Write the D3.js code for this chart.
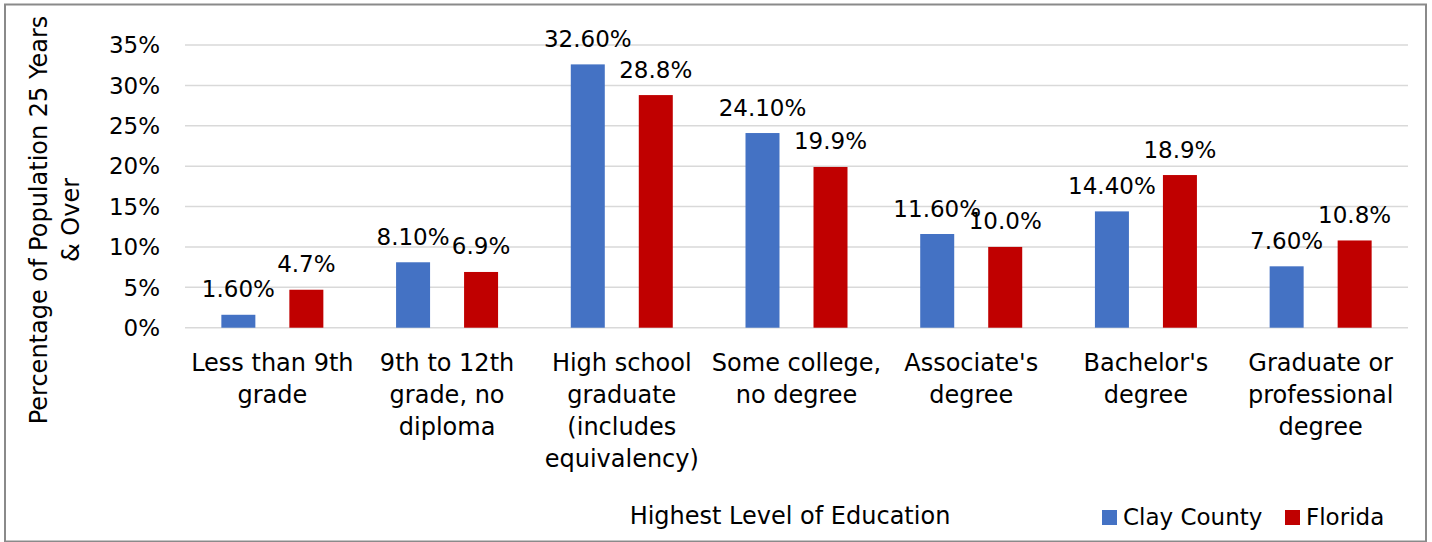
<!DOCTYPE html>
<html><head><meta charset="utf-8">
<script src="https://cdn.jsdelivr.net/npm/d3@7"></script>
<style>body{margin:0;background:#fff}svg{display:block}text{font-family:"DejaVu Sans",sans-serif;fill:#000}</style>
</head><body><svg id="c" width="1432" height="542"></svg>
<script>
const categories = [
  ["Less than 9th","grade"],
  ["9th to 12th","grade, no","diploma"],
  ["High school","graduate","(includes","equivalency)"],
  ["Some college,","no degree"],
  ["Associate's","degree"],
  ["Bachelor's","degree"],
  ["Graduate or","professional","degree"]
];
const seriesNames = ["Clay County","Florida"];
const clayValues = [1.6, 8.1, 32.6, 24.1, 11.6, 14.4, 7.6];
const floridaValues = [4.7, 6.9, 28.8, 19.9, 10.0, 18.9, 10.8];
const clayLabels = ["1.60%","8.10%","32.60%","24.10%","11.60%","14.40%","7.60%"];
const floridaLabels = ["4.7%","6.9%","28.8%","19.9%","10.0%","18.9%","10.8%"];
const yTicks = [0,5,10,15,20,25,30,35];
const colors = ["#4472C4","#C00000"];

(function(){
const svg = d3.select("#c");
svg.append("rect").attr("x",5).attr("y",4.5).attr("width",1421).attr("height",537)
  .attr("fill","#fff").attr("stroke","#8a8a8a").attr("stroke-width",2);

const pL=185,pR=1408,pT=45,pB=327.7;
const y = d3.scaleLinear().domain([0,35]).range([pB,pT]);
const x0 = d3.scaleBand().domain(d3.range(categories.length)).range([pL,pR]);
const x1 = d3.scaleBand().domain(seriesNames).range([0,102]).paddingInner(0.5);

svg.append("g").selectAll("line").data(yTicks).join("line")
  .attr("x1",pL).attr("x2",pR).attr("y1",d=>y(d)).attr("y2",d=>y(d))
  .attr("stroke","#d9d9d9").attr("stroke-width",1.5);
svg.append("g").selectAll("text").data(yTicks).join("text")
  .attr("x",160).attr("y",d=>y(d)).attr("dy","0.36em").attr("text-anchor","end")
  .attr("font-size",23).text(d=>d+"%");

const series = [
  {name:seriesNames[0], values:clayValues, labels:clayLabels, color:colors[0]},
  {name:seriesNames[1], values:floridaValues, labels:floridaLabels, color:colors[1]}
];
series.forEach(s=>{
  const g = svg.append("g");
  const bx = i => x0(i)+x0.bandwidth()/2-51+x1(s.name);
  g.selectAll("rect").data(s.values).join("rect")
    .attr("x",(d,i)=>bx(i)).attr("width",x1.bandwidth())
    .attr("y",d=>y(d)).attr("height",d=>y(0)-y(d)).attr("fill",s.color);
  g.selectAll("text").data(s.values).join("text")
    .attr("x",(d,i)=>bx(i)+x1.bandwidth()/2).attr("y",d=>y(d)-17.5)
    .attr("text-anchor","middle").attr("font-size",23).text((d,i)=>s.labels[i]);
});

const cg = svg.append("g");
categories.forEach((lines,i)=>{
  const t = cg.append("text").attr("text-anchor","middle").attr("font-size",24);
  lines.forEach((ln,j)=>{
    t.append("tspan").attr("x",x0(i)+x0.bandwidth()/2).attr("y",371+j*32).text(ln);
  });
});

const yt = svg.append("text").attr("transform","translate(47,220) rotate(-90)")
  .attr("text-anchor","middle").attr("font-size",24);
yt.append("tspan").attr("x",0).attr("y",0).text("Percentage of Population 25 Years");
yt.append("tspan").attr("x",0).attr("y",32).text("& Over");

svg.append("text").attr("x",790).attr("y",524).attr("text-anchor","middle")
  .attr("font-size",24).text("Highest Level of Education");

const legendX = [1102,1285];
const lg = svg.append("g");
series.forEach((s,i)=>{
  lg.append("rect").attr("x",legendX[i]).attr("y",510).attr("width",15).attr("height",15).attr("fill",s.color);
  lg.append("text").attr("x",legendX[i]+21).attr("y",525).attr("font-size",23).text(s.name);
});
})();
</script></body></html>
